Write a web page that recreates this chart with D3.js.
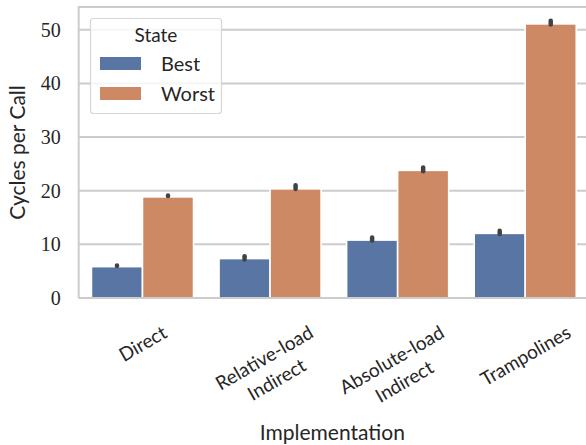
<!DOCTYPE html>
<html>
<head>
<meta charset="utf-8">
<script src="https://cdn.jsdelivr.net/npm/d3@7"></script>
<style>
  body { margin: 0; background: #fff; }
  svg { display: block; }
</style>
</head>
<body>
<script>
const width = 586;
const height = 445;

// data
const categories = ["Direct", "Relative-load\nIndirect", "Absolute-load\nIndirect", "Trampolines"];
const states = ["Best", "Worst"];
const bestMean = [5.85, 7.35, 10.8, 12.05];
const worstMean = [18.85, 20.35, 23.8, 51.1];
const bestLo = [5.95, 7.2, 10.7, 11.95];
const bestHi = [6.05, 7.8, 11.3, 12.55];
const worstLo = [19.0, 20.3, 23.65, 51.0];
const worstHi = [19.1, 21.0, 24.35, 51.7];
const yTicks = [0, 10, 20, 30, 40, 50];

const colors = { Best: "#5975a4", Worst: "#cc8963" };
const sans = "Lato, 'Open Sans', sans-serif";
const serif = "'Liberation Serif', 'DejaVu Serif', serif";

const margin = { top: 7, right: -3, bottom: 147, left: 78.7 };

const svg = d3.select("body").append("svg")
  .attr("width", width)
  .attr("height", height);

const x = d3.scaleBand()
  .domain(categories)
  .range([margin.left, width - margin.right]);

const xSub = d3.scaleBand()
  .domain(states)
  .range([0, x.bandwidth()])
  .paddingOuter(0.25);

const y = d3.scaleLinear()
  .domain([0, 54.25])
  .range([height - margin.bottom, margin.top]);

// rows for bars
const rows = [];
categories.forEach((c, i) => {
  rows.push({ cat: c, state: "Best", v: bestMean[i], lo: bestLo[i], hi: bestHi[i] });
  rows.push({ cat: c, state: "Worst", v: worstMean[i], lo: worstLo[i], hi: worstHi[i] });
});

const plotR = width - margin.right;
const plotB = height - margin.bottom;

// gridlines
svg.append("g")
  .selectAll("line")
  .data(yTicks)
  .join("line")
  .attr("x1", margin.left)
  .attr("x2", plotR)
  .attr("y1", d => y(d))
  .attr("y2", d => y(d))
  .attr("stroke", "#cccccc")
  .attr("stroke-width", 2);

// bars
svg.append("g")
  .selectAll("rect")
  .data(rows)
  .join("rect")
  .attr("x", d => x(d.cat) + xSub(d.state))
  .attr("width", xSub.bandwidth())
  .attr("y", d => y(d.v))
  .attr("height", d => y(0) - y(d.v))
  .attr("fill", d => colors[d.state])
  .attr("stroke", "#ffffff")
  .attr("stroke-width", 1.6);

// error bars
svg.append("g")
  .selectAll("line")
  .data(rows)
  .join("line")
  .attr("x1", d => x(d.cat) + xSub(d.state) + xSub.bandwidth() / 2)
  .attr("x2", d => x(d.cat) + xSub(d.state) + xSub.bandwidth() / 2)
  .attr("y1", d => y(d.lo))
  .attr("y2", d => y(d.hi))
  .attr("stroke", "#424242")
  .attr("stroke-width", 4.5)
  .attr("stroke-linecap", "round");

// spines (left, top, bottom)
svg.append("path")
  .attr("d", `M${margin.left},${plotB}V${margin.top}H${plotR}M${margin.left},${plotB}H${plotR}`)
  .attr("fill", "none")
  .attr("stroke", "#cccccc")
  .attr("stroke-width", 2);

// y axis
const yAxis = svg.append("g")
  .attr("transform", `translate(${margin.left},0)`)
  .call(d3.axisLeft(y).tickValues(yTicks).tickSize(0).tickPadding(18));
yAxis.select(".domain").remove();
yAxis.selectAll("text")
  .attr("font-family", serif)
  .attr("font-size", 20)
  .attr("fill", "#262626");

// x tick labels, rotated 30 degrees, centred under each group
const xLabels = svg.append("g");
categories.forEach(c => {
  const g = xLabels.append("g");
  const lines = c.split("\n");
  const t = g.append("text")
    .attr("font-family", sans)
    .attr("font-size", 19)
    .attr("fill", "#262626")
    .attr("text-anchor", "middle");
  lines.forEach((l, i) => {
    t.append("tspan").attr("x", 0).attr("y", i * 25).text(l);
  });
  const b = t.node().getBBox();
  const a = Math.PI / 6;
  const H = b.width * Math.sin(a) + b.height * Math.cos(a);
  const cx = x(c) + x.bandwidth() / 2;
  const cy = 320 + H / 2;
  g.attr("transform",
    `translate(${cx},${cy}) rotate(-30) translate(${-(b.x + b.width / 2)},${-(b.y + b.height / 2)})`);
});

// axis titles
svg.append("text")
  .attr("x", (margin.left + 586) / 2)
  .attr("y", 440)
  .attr("text-anchor", "middle")
  .attr("font-family", sans)
  .attr("font-size", 21)
  .attr("fill", "#262626")
  .text("Implementation");

svg.append("text")
  .attr("transform", `translate(25,${(margin.top + plotB) / 2}) rotate(-90)`)
  .attr("text-anchor", "middle")
  .attr("font-family", sans)
  .attr("font-size", 21)
  .attr("fill", "#262626")
  .text("Cycles per Call");

// legend
const legend = svg.append("g");
legend.append("rect")
  .attr("x", 90.5)
  .attr("y", 18.5)
  .attr("width", 131)
  .attr("height", 95)
  .attr("rx", 3)
  .attr("fill", "#ffffff")
  .attr("fill-opacity", 0.8)
  .attr("stroke", "#d6d6d6")
  .attr("stroke-width", 1.2);
legend.append("text")
  .attr("x", 156)
  .attr("y", 42)
  .attr("text-anchor", "middle")
  .attr("font-family", sans)
  .attr("font-size", 19)
  .attr("fill", "#262626")
  .text("State");
states.forEach((s, i) => {
  legend.append("rect")
    .attr("x", 100)
    .attr("y", 57 + i * 30)
    .attr("width", 41)
    .attr("height", 13)
    .attr("fill", colors[s]);
  legend.append("text")
    .attr("x", 161)
    .attr("y", 71 + i * 30)
    .attr("font-family", sans)
    .attr("font-size", 20)
    .attr("fill", "#262626")
    .text(s);
});
</script>
</body>
</html>
